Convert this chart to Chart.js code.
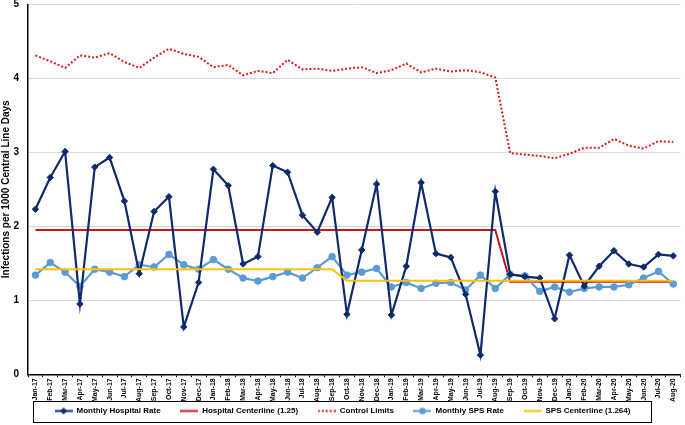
<!DOCTYPE html>
<html>
<head>
<meta charset="utf-8">
<script src="https://cdn.jsdelivr.net/npm/chart.js@4.4.0/dist/chart.umd.min.js"></script>
<style>
  html, body { margin: 0; padding: 0; background: #fff; }
  #wrap { width: 685px; height: 425px; }
</style>
</head>
<body>
<div id="wrap"><canvas id="grafico" width="685" height="425"></canvas></div>
<script>
// meses (etiquetas eje x)
const meses = ['Jan-17','Feb-17','Mar-17','Apr-17','May-17','Jun-17','Jul-17','Aug-17','Sep-17','Oct-17','Nov-17','Dec-17',
  'Jan-18','Feb-18','Mar-18','Apr-18','May-18','Jun-18','Jul-18','Aug-18','Sep-18','Oct-18','Nov-18','Dec-18',
  'Jan-19','Feb-19','Mar-19','Apr-19','May-19','Jun-19','Jul-19','Aug-19','Sep-19','Oct-19','Nov-19','Dec-19',
  'Jan-20','Feb-20','Mar-20','Apr-20','May-20','Jun-20','Jul-20','Aug-20'];

const hospitalRate = [2.23,2.66,3.01,0.95,2.80,2.93,2.34,1.36,2.20,2.40,0.64,1.24,
  2.77,2.55,1.49,1.59,2.82,2.73,2.15,1.92,2.39,0.81,1.68,2.57,
  0.80,1.46,2.59,1.63,1.58,1.08,0.26,2.47,1.35,1.32,1.30,0.75,
  1.61,1.19,1.46,1.67,1.49,1.45,1.62,1.60];

const hospitalCenter = [1.95,1.95,1.95,1.95,1.95,1.95,1.95,1.95,1.95,1.95,1.95,1.95,
  1.95,1.95,1.95,1.95,1.95,1.95,1.95,1.95,1.95,1.95,1.95,1.95,
  1.95,1.95,1.95,1.95,1.95,1.95,1.95,1.95,1.25,1.25,1.25,1.25,
  1.25,1.25,1.25,1.25,1.25,1.25,1.25,1.25];

const controlLimits = [4.31,4.23,4.14,4.31,4.28,4.34,4.22,4.14,4.28,4.40,4.33,4.29,
  4.15,4.18,4.04,4.10,4.07,4.25,4.12,4.13,4.10,4.13,4.15,4.07,
  4.11,4.20,4.08,4.13,4.09,4.11,4.08,4.01,2.99,2.97,2.95,2.92,
  2.98,3.06,3.06,3.18,3.09,3.05,3.15,3.14];

const spsRate = [1.34,1.51,1.38,1.19,1.42,1.38,1.32,1.48,1.45,1.62,1.48,1.42,
  1.55,1.42,1.30,1.26,1.32,1.38,1.30,1.44,1.59,1.34,1.38,1.43,
  1.18,1.24,1.16,1.23,1.24,1.14,1.34,1.16,1.35,1.33,1.12,1.18,
  1.11,1.16,1.18,1.18,1.21,1.30,1.39,1.22];

const spsCenter = [1.42,1.42,1.42,1.42,1.42,1.42,1.42,1.42,1.42,1.42,1.42,1.42,
  1.42,1.42,1.42,1.42,1.42,1.42,1.42,1.42,1.42,1.264,1.264,1.264,
  1.264,1.264,1.264,1.264,1.264,1.264,1.264,1.264,1.264,1.264,1.264,1.264,
  1.264,1.264,1.264,1.264,1.264,1.264,1.264,1.264];

const yTicks = [0,1,2,3,4,5];

// muestra de leyenda estilo Excel: linea + marcador
function muestra(color, dash, marcador) {
  const cv = document.createElement('canvas');
  cv.width = 18; cv.height = 9;
  const c = cv.getContext('2d');
  c.strokeStyle = color;
  c.fillStyle = color;
  c.lineWidth = 2;
  c.setLineDash(dash);
  c.beginPath(); c.moveTo(0, 4.5); c.lineTo(18, 4.5); c.stroke();
  c.setLineDash([]);
  if (marcador === 'diamond') {
    c.beginPath(); c.moveTo(9, 1); c.lineTo(12.5, 4.5); c.lineTo(9, 8); c.lineTo(5.5, 4.5); c.closePath(); c.fill();
  } else if (marcador === 'circle') {
    c.beginPath(); c.arc(9, 4.5, 3.3, 0, Math.PI * 2); c.fill();
  }
  return cv;
}

const espacios = '       ';

// borde alrededor de la leyenda
const bordeLeyenda = {
  id: 'bordeLeyenda',
  afterDraw(chart) {
    const lg = chart.legend;
    if (!lg || !lg.legendHitBoxes || !lg.legendHitBoxes.length) return;
    const hb = lg.legendHitBoxes;
    const x0 = Math.min(...hb.map(h => h.left)) - 22;
    const x1 = Math.max(...hb.map(h => h.left + h.width)) + 20;
    const yc = hb[0].top + hb[0].height / 2;
    const c = chart.ctx;
    c.save();
    c.strokeStyle = '#000';
    c.lineWidth = 1;
    c.strokeRect(Math.round(x0) + 0.5, Math.round(yc - 10.5) + 0.5, Math.round(x1 - x0), 21);
    c.restore();
  }
};

const fuente = "'Liberation Sans', Arial, sans-serif";

const ctx = document.getElementById('grafico').getContext('2d');
new Chart(ctx, {
  type: 'line',
  data: {
    labels: meses,
    datasets: [
      {
        label: 'Monthly Hospital Rate',
        data: hospitalRate,
        borderColor: '#0E2A6B',
        backgroundColor: '#0E2A6B',
        borderWidth: 2.2,
        pointStyle: 'rectRot',
        pointRadius: 3.2,
        pointBorderWidth: 1,
        pointHoverRadius: 3.2,
        tension: 0,
        order: 1,
        muestra: muestra('#0E2A6B', [], 'diamond')
      },
      {
        label: 'Hospital Centerline (1.25)',
        data: hospitalCenter,
        borderColor: '#C8161D',
        backgroundColor: '#C8161D',
        borderWidth: 2,
        pointRadius: 0,
        tension: 0,
        order: 3,
        muestra: muestra('#C8161D', [], null)
      },
      {
        label: 'Control Limits',
        data: controlLimits,
        borderColor: '#E0161D',
        backgroundColor: '#E0161D',
        borderWidth: 2,
        borderDash: [2, 2],
        pointRadius: 0,
        tension: 0,
        order: 4,
        muestra: muestra('#E0161D', [2, 2], null)
      },
      {
        label: 'Monthly SPS Rate',
        data: spsRate,
        borderColor: '#5B9BD5',
        backgroundColor: '#5B9BD5',
        borderWidth: 2.2,
        pointStyle: 'circle',
        pointRadius: 3.3,
        pointBorderWidth: 1,
        pointHoverRadius: 3.3,
        tension: 0,
        order: 2,
        muestra: muestra('#5B9BD5', [], 'circle')
      },
      {
        label: 'SPS Centerline (1.264)',
        data: spsCenter,
        borderColor: '#FFC000',
        backgroundColor: '#FFC000',
        borderWidth: 2,
        pointRadius: 0,
        tension: 0,
        order: 0,
        muestra: muestra('#FFC000', [], null)
      }
    ]
  },
  options: {
    responsive: false,
    animation: false,
    layout: { padding: { left: 0, right: 0, top: 3, bottom: 0 } },
    plugins: {
      tooltip: { enabled: false },
      legend: {
        position: 'bottom',
        labels: {
          color: '#000',
          font: { family: fuente, size: 8, weight: 'bold' },
          usePointStyle: true,
          pointStyleWidth: 18,
          boxHeight: 9,
          padding: 4,
          generateLabels(chart) {
            const n = chart.data.datasets.length;
            return chart.data.datasets.map((ds, i) => ({
              text: ds.label + (i < n - 1 ? espacios : ''),
              pointStyle: ds.muestra,
              fillStyle: ds.borderColor,
              strokeStyle: ds.borderColor,
              lineWidth: 0,
              hidden: false,
              datasetIndex: i
            }));
          }
        }
      }
    },
    scales: {
      x: {
        offset: true,
        border: { color: '#000', width: 1.5 },
        grid: { display: true, drawOnChartArea: false, color: '#000', tickLength: 3, offset: true },
        ticks: {
          color: '#000',
          autoSkip: false,
          maxRotation: 90,
          minRotation: 90,
          padding: 1,
          font: { family: fuente, size: 7, weight: 'bold' }
        }
      },
      y: {
        min: 0,
        max: 5,
        afterBuildTicks(axis) { axis.ticks = yTicks.map(v => ({ value: v })); },
        afterFit(axis) { axis.paddingTop = 0; axis.width = 28; },
        border: { color: '#000', width: 1.5 },
        grid: { color: '#D9D9D9', lineWidth: 1, tickLength: 0 },
        ticks: {
          color: '#000',
          padding: 9,
          font: { family: fuente, size: 10, weight: 'bold' }
        },
        title: {
          display: true,
          text: 'Infections per 1000 Central Line Days',
          color: '#000',
          padding: { top: 0, bottom: 0 },
          font: { family: fuente, size: 10, weight: 'bold' }
        }
      }
    }
  },
  plugins: [bordeLeyenda]
});
</script>
</body>
</html>
